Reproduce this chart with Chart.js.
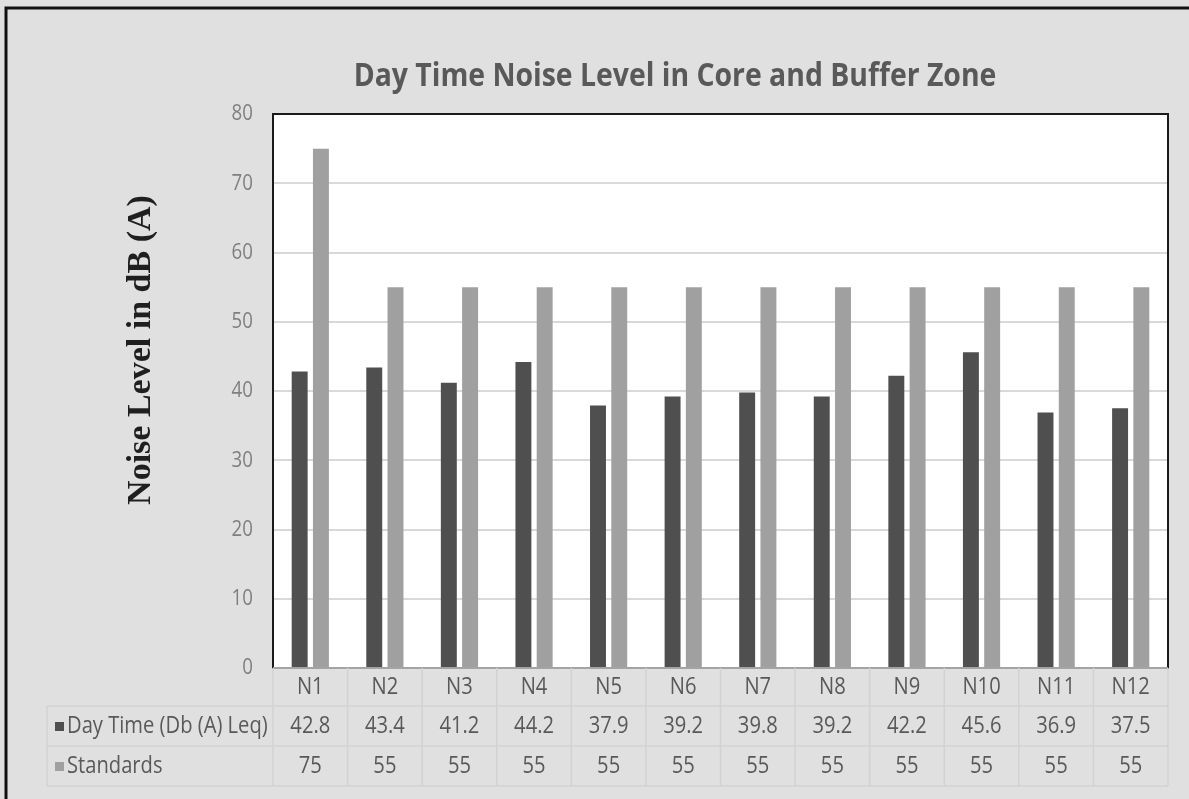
<!DOCTYPE html>
<html>
<head>
<meta charset="utf-8">
<script src="https://cdn.jsdelivr.net/npm/chart.js@4.4.0/dist/chart.umd.min.js"></script>
<style>
  html, body { margin: 0; padding: 0; background: #e0e0e0; }
  canvas { display: block; }
</style>
</head>
<body>
<canvas id="noiseChart" width="1189" height="799"></canvas>
<script>
const stations = ['N1', 'N2', 'N3', 'N4', 'N5', 'N6', 'N7', 'N8', 'N9', 'N10', 'N11', 'N12'];
const dayTime = [42.8, 43.4, 41.2, 44.2, 37.9, 39.2, 39.8, 39.2, 42.2, 45.6, 36.9, 37.5];
const standards = [75, 55, 55, 55, 55, 55, 55, 55, 55, 55, 55, 55];
const yTicks = [0, 10, 20, 30, 40, 50, 60, 70, 80];
const seriesNames = ['Day Time (Db (A) Leq)', 'Standards'];
const chartTitle = 'Day Time Noise Level in Core and Buffer Zone';
const yTitle = 'Noise Level in dB (A)';

const DARK = '#4f4f4f';
const LIGHT = '#a0a0a0';
const TEXT = '#595959';
const CELL_LINE = '#d2d2d2';

// text squeezed horizontally, Calibri-like look
function txt(ctx, s, x, y, font, color, align, sx) {
  ctx.save();
  ctx.font = font;
  ctx.fillStyle = color;
  ctx.textAlign = align;
  ctx.textBaseline = 'middle';
  ctx.translate(x, y);
  ctx.scale(sx, 1);
  ctx.fillText(s, 0, 0);
  ctx.restore();
}

const decor = {
  id: 'decor',
  beforeDraw(chart) {
    const { ctx, chartArea: a } = chart;
    ctx.save();
    ctx.fillStyle = '#e0e0e0';
    ctx.fillRect(0, 0, chart.width, chart.height);
    // outer frame (top and left edges)
    ctx.strokeStyle = '#111';
    ctx.lineWidth = 3;
    ctx.beginPath();
    ctx.moveTo(6, chart.height);
    ctx.lineTo(6, 8);
    ctx.lineTo(chart.width, 8);
    ctx.stroke();
    ctx.fillStyle = '#ffffff';
    ctx.fillRect(a.left, a.top, a.right - a.left, a.bottom - a.top);
    ctx.restore();
  },
  afterDraw(chart) {
    const { ctx, chartArea: a } = chart;
    const ys = chart.scales.y, xs = chart.scales.x;

    ctx.save();
    ctx.strokeStyle = '#1a1a1a';
    ctx.lineWidth = 2;
    ctx.strokeRect(a.left, a.top, a.right - a.left, a.bottom - a.top);
    ctx.restore();

    // y tick labels
    yTicks.forEach(v => {
      txt(ctx, String(v), a.left - 20, ys.getPixelForValue(v), '22px "Open Sans"', '#7f7f7f', 'right', 0.85);
    });

    // titles
    txt(ctx, chartTitle, 675, 77, 'bold 33px "Open Sans"', TEXT, 'center', 0.86);
    ctx.save();
    ctx.translate(141, 350);
    ctx.rotate(-Math.PI / 2);
    ctx.font = 'bold 34px "Liberation Serif"';
    ctx.fillStyle = '#1f1f1f';
    ctx.textAlign = 'center';
    ctx.textBaseline = 'middle';
    ctx.fillText(yTitle, 0, 0);
    ctx.restore();

    // data table under the plot
    const half = (a.right - a.left) / stations.length / 2;
    const rows = [a.bottom, 706, 746, 786];
    const labelLeft = 47;
    ctx.save();
    ctx.strokeStyle = CELL_LINE;
    ctx.lineWidth = 1.5;
    ctx.beginPath();
    rows.forEach((y, r) => {
      ctx.moveTo(r === 0 ? a.left : labelLeft, y);
      ctx.lineTo(a.right, y);
    });
    stations.forEach((s, i) => {
      const x = xs.getPixelForValue(i) - half;
      ctx.moveTo(x, rows[0]);
      ctx.lineTo(x, rows[3]);
    });
    ctx.moveTo(a.right, rows[0]);
    ctx.lineTo(a.right, rows[3]);
    ctx.moveTo(labelLeft, rows[1]);
    ctx.lineTo(labelLeft, rows[3]);
    ctx.stroke();
    ctx.restore();

    const font = '24px "Open Sans"';
    const sx = 0.84;
    stations.forEach((s, i) => {
      const cx = xs.getPixelForValue(i);
      txt(ctx, s, cx, 687, font, TEXT, 'center', sx);
      txt(ctx, String(dayTime[i]), cx, 726, font, TEXT, 'center', sx);
      txt(ctx, String(standards[i]), cx, 766, font, TEXT, 'center', sx);
    });
    [DARK, LIGHT].forEach((c, r) => {
      const cy = (rows[r + 1] + rows[r + 2]) / 2;
      ctx.fillStyle = c;
      ctx.fillRect(55, cy - 4, 9, 9);
      txt(ctx, seriesNames[r], 67, cy, font, TEXT, 'left', sx);
    });
  }
};

new Chart(document.getElementById('noiseChart'), {
  type: 'bar',
  data: {
    labels: stations,
    datasets: [
      { label: seriesNames[0], data: dayTime, backgroundColor: DARK },
      { label: seriesNames[1], data: standards, backgroundColor: LIGHT }
    ]
  },
  options: {
    responsive: false,
    animation: false,
    categoryPercentage: 0.57,
    barPercentage: 0.75,
    layout: { padding: { left: 273, right: 21, top: 114, bottom: 131 } },
    plugins: { legend: { display: false }, title: { display: false }, tooltip: { enabled: false } },
    scales: {
      x: { display: false },
      y: {
        min: 0, max: 80,
        ticks: { display: false, stepSize: 10 },
        border: { display: false },
        grid: { color: '#d9d9d9', lineWidth: 2, drawTicks: false }
      }
    }
  },
  plugins: [decor]
});
</script>
</body>
</html>
